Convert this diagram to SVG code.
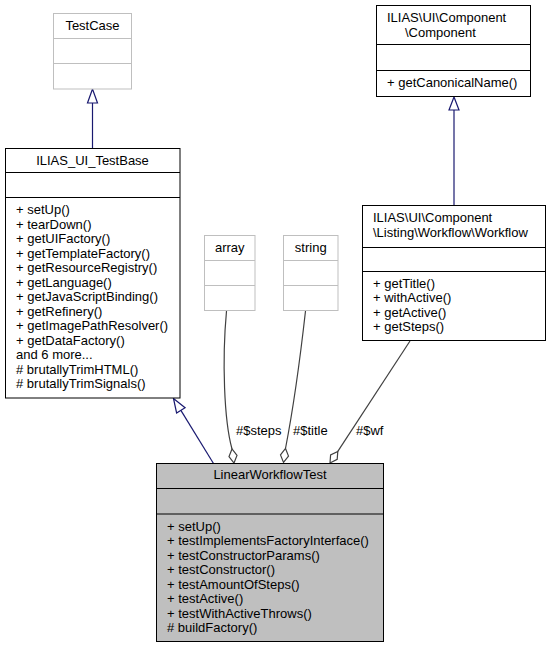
<svg xmlns="http://www.w3.org/2000/svg" width="551" height="648" viewBox="0 0 551 648">
<style>
text{font-family:"Liberation Sans",Arial,Helvetica,sans-serif;font-size:13px;fill:#000}
.c{text-anchor:middle}
.box{fill:#fff;stroke:#000;stroke-width:1}
.gbox{fill:#fff;stroke:#bfbfbf;stroke-width:1}
.cur{fill:#bfbfbf;stroke:#000;stroke-width:1}
.ln{stroke:#000;stroke-width:1}
.gln{stroke:#bfbfbf;stroke-width:1}
.inh{fill:none;stroke:#191970;stroke-width:1.2}
.inhh{fill:#fff;stroke:#191970;stroke-width:1.2}
.agg{fill:none;stroke:#404040;stroke-width:1.2}
.aggh{fill:#fff;stroke:#404040;stroke-width:1.2}
</style>
<rect width="551" height="648" fill="#fff"/>
<g id="connectors">
<path class="inh" d="M92.5,148 L92.5,103"/>
<polygon class="inhh" points="92.5,89 87.5,103 97.5,103"/>
<path class="inh" d="M454,205.5 L454,110"/>
<polygon class="inhh" points="454,97 449,110 459,110"/>
<path class="inh" d="M213.5,463.5 L180.9,410.4"/>
<polygon class="inhh" points="173.5,398.5 176.6,413 185.1,407.7"/>
<path class="agg" d="M226.5,311 C222,360 224,420 232,449"/>
<polygon class="aggh" points="234,463 237,455.4 232,449 229,456.6"/>
<text x="236" y="435">#$steps</text>
<path class="agg" d="M305.5,311 C300,360 291,420 285.5,448.5"/>
<polygon class="aggh" points="283.5,462.4 288.5,456.1 285.5,448.5 280.5,454.9"/>
<text x="293" y="435">#$title</text>
<path class="agg" d="M410,341 L337.8,451.4"/>
<polygon class="aggh" points="330,463 337.2,459.4 337.8,451.4 330.6,455"/>
<text x="356" y="435">#$wf</text>
</g>
<g id="TestCase">
<rect class="gbox" x="53.5" y="13.5" width="78" height="75.5"/>
<line class="gln" x1="53.5" y1="38.5" x2="131.5" y2="38.5"/>
<line class="gln" x1="53.5" y1="63.5" x2="131.5" y2="63.5"/>
<text class="c" x="92.5" y="30">TestCase</text>
</g>
<g id="ILIAS_UI_TestBase">
<rect class="box" x="5.5" y="148.5" width="174.5" height="249.5"/>
<line class="ln" x1="5.5" y1="172.5" x2="180" y2="172.5"/>
<line class="ln" x1="5.5" y1="197.5" x2="180" y2="197.5"/>
<text class="c" x="92.5" y="165">ILIAS_UI_TestBase</text>
<text x="16" y="214">+ setUp()</text>
<text x="16" y="228.5">+ tearDown()</text>
<text x="16" y="243">+ getUIFactory()</text>
<text x="16" y="257.5">+ getTemplateFactory()</text>
<text x="16" y="272">+ getResourceRegistry()</text>
<text x="16" y="286.5">+ getLanguage()</text>
<text x="16" y="301">+ getJavaScriptBinding()</text>
<text x="16" y="315.5">+ getRefinery()</text>
<text x="16" y="330">+ getImagePathResolver()</text>
<text x="16" y="344.5">+ getDataFactory()</text>
<text x="16" y="359">and 6 more...</text>
<text x="16" y="373.5"># brutallyTrimHTML()</text>
<text x="16" y="388"># brutallyTrimSignals()</text>
</g>
<g id="array">
<rect class="gbox" x="204.5" y="235.5" width="50.5" height="75"/>
<line class="gln" x1="204.5" y1="260.5" x2="255" y2="260.5"/>
<line class="gln" x1="204.5" y1="285.5" x2="255" y2="285.5"/>
<text class="c" x="229.75" y="252">array</text>
</g>
<g id="string">
<rect class="gbox" x="283.5" y="235.5" width="54.5" height="75"/>
<line class="gln" x1="283.5" y1="260.5" x2="338" y2="260.5"/>
<line class="gln" x1="283.5" y1="285.5" x2="338" y2="285.5"/>
<text class="c" x="310.75" y="252">string</text>
</g>
<g id="Component">
<rect class="box" x="376.5" y="5.5" width="154" height="91"/>
<line class="ln" x1="376.5" y1="44.5" x2="530.5" y2="44.5"/>
<line class="ln" x1="376.5" y1="70.5" x2="530.5" y2="70.5"/>
<text x="387" y="22">ILIAS\UI\Component</text>
<text x="405" y="37">\Component</text>
<text x="387" y="87">+ getCanonicalName()</text>
</g>
<g id="Workflow">
<rect class="box" x="362.5" y="205.5" width="183" height="135"/>
<line class="ln" x1="362.5" y1="247.5" x2="545.5" y2="247.5"/>
<line class="ln" x1="362.5" y1="271.5" x2="545.5" y2="271.5"/>
<text x="373" y="221.5">ILIAS\UI\Component</text>
<text x="373" y="237">\Listing\Workflow\Workflow</text>
<text x="373" y="287.5">+ getTitle()</text>
<text x="373" y="302">+ withActive()</text>
<text x="373" y="316.5">+ getActive()</text>
<text x="373" y="331">+ getSteps()</text>
</g>
<g id="LinearWorkflowTest">
<rect class="cur" x="156.5" y="463.5" width="227" height="178"/>
<line class="ln" x1="156.5" y1="488.5" x2="383.5" y2="488.5"/>
<line class="ln" x1="156.5" y1="514" x2="383.5" y2="514"/>
<text class="c" x="270" y="479">LinearWorkflowTest</text>
<text x="167" y="530.5">+ setUp()</text>
<text x="167" y="545">+ testImplementsFactoryInterface()</text>
<text x="167" y="559.5">+ testConstructorParams()</text>
<text x="167" y="574">+ testConstructor()</text>
<text x="167" y="588.5">+ testAmountOfSteps()</text>
<text x="167" y="603">+ testActive()</text>
<text x="167" y="617.5">+ testWithActiveThrows()</text>
<text x="167" y="632"># buildFactory()</text>
</g>
</svg>
